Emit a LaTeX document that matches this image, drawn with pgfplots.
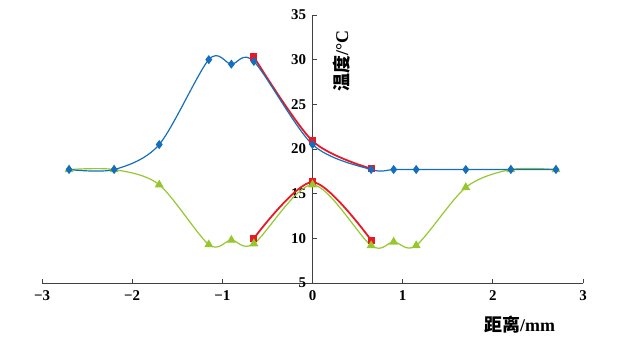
\documentclass[border=0pt]{standalone}
\usepackage{fontspec}
\setmainfont{Liberation Serif}
\newfontfamily\cjk{Noto Sans CJK SC Medium}
\usepackage{pgfplots}
\pgfplotsset{compat=1.18}
\definecolor{cblue}{RGB}{20,110,190}
\definecolor{cred}{RGB}{232,24,36}
\definecolor{cgreen}{RGB}{150,200,45}
\begin{document}
\begin{tikzpicture}
\path (-42bp,-57bp) rectangle (579bp,283bp);
\begin{axis}[
  at={(0,0)}, anchor=south west,
  scale only axis, width=541bp, height=268bp,
  xmin=-3, xmax=3, ymin=5, ymax=35,
  axis x line=bottom, axis y line=center,
  hide obscured y ticks=false,
  axis line style={-, black!75, line width=0.7pt},
  xtick={-3,-2,-1,0,1,2,3},
  xticklabels={−3,−2,−1,0,1,2,3},
  ytick={5,10,...,35},
  /pgf/number format/assume math mode=true,
  tick style={black!75, line width=0.7pt},
  major tick length=4bp,
  xtick align=inside,
  ytick style={xshift=2bp},
  x tick label style={font=\fontsize{15}{15}\selectfont\bfseries, yshift=-4bp},
  y tick label style={font=\fontsize{15}{15}\selectfont\bfseries, xshift=-1bp},
  xlabel={{\cjk 距离}/mm},
  ylabel={{\cjk 温度}/°C},
  xlabel style={font=\fontsize{18}{18}\selectfont\bfseries, at={(axis description cs:0.883,-0.157)}, anchor=center},
  ylabel style={font=\fontsize{18}{18}\selectfont\bfseries, at={(axis description cs:0.553,0.83)}, anchor=center, rotate=90},
  clip=false,
]
\addplot[cred, line width=1.8pt, smooth, mark=square*, mark size=2.7bp, mark options={solid, fill=cred}]
 coordinates {(-0.65,30.3) (0,20.9) (0.65,17.8)};
\addplot[cred, line width=1.8pt, smooth, mark=square*, mark size=2.7bp, mark options={solid, fill=cred}]
 coordinates {(-0.65,10) (0,16.3) (0.65,9.8)};
\addplot[cgreen, line width=1.2pt, smooth, mark=triangle*, mark size=4bp, mark options={solid, fill=cgreen}]
 coordinates {(-2.7,17.7) (-2.2,17.7) (-1.7,16) (-1.15,9.3) (-0.9,9.8) (-0.65,9.4) (0,16) (0.65,9.2) (0.9,9.6) (1.15,9.2) (1.7,15.7) (2.2,17.7) (2.7,17.7)};
\addplot[cblue, line width=1.2pt, smooth, mark=diamond*, mark size=3.6bp, mark options={solid, fill=cblue}]
 coordinates {(-2.7,17.7) (-2.2,17.7) (-1.7,20.5) (-1.15,30) (-0.9,29.5) (-0.65,29.8) (0,20.5) (0.65,17.7) (0.9,17.7) (1.15,17.7) (1.7,17.7) (2.2,17.7) (2.7,17.7)};
\end{axis}
\end{tikzpicture}
\end{document}
